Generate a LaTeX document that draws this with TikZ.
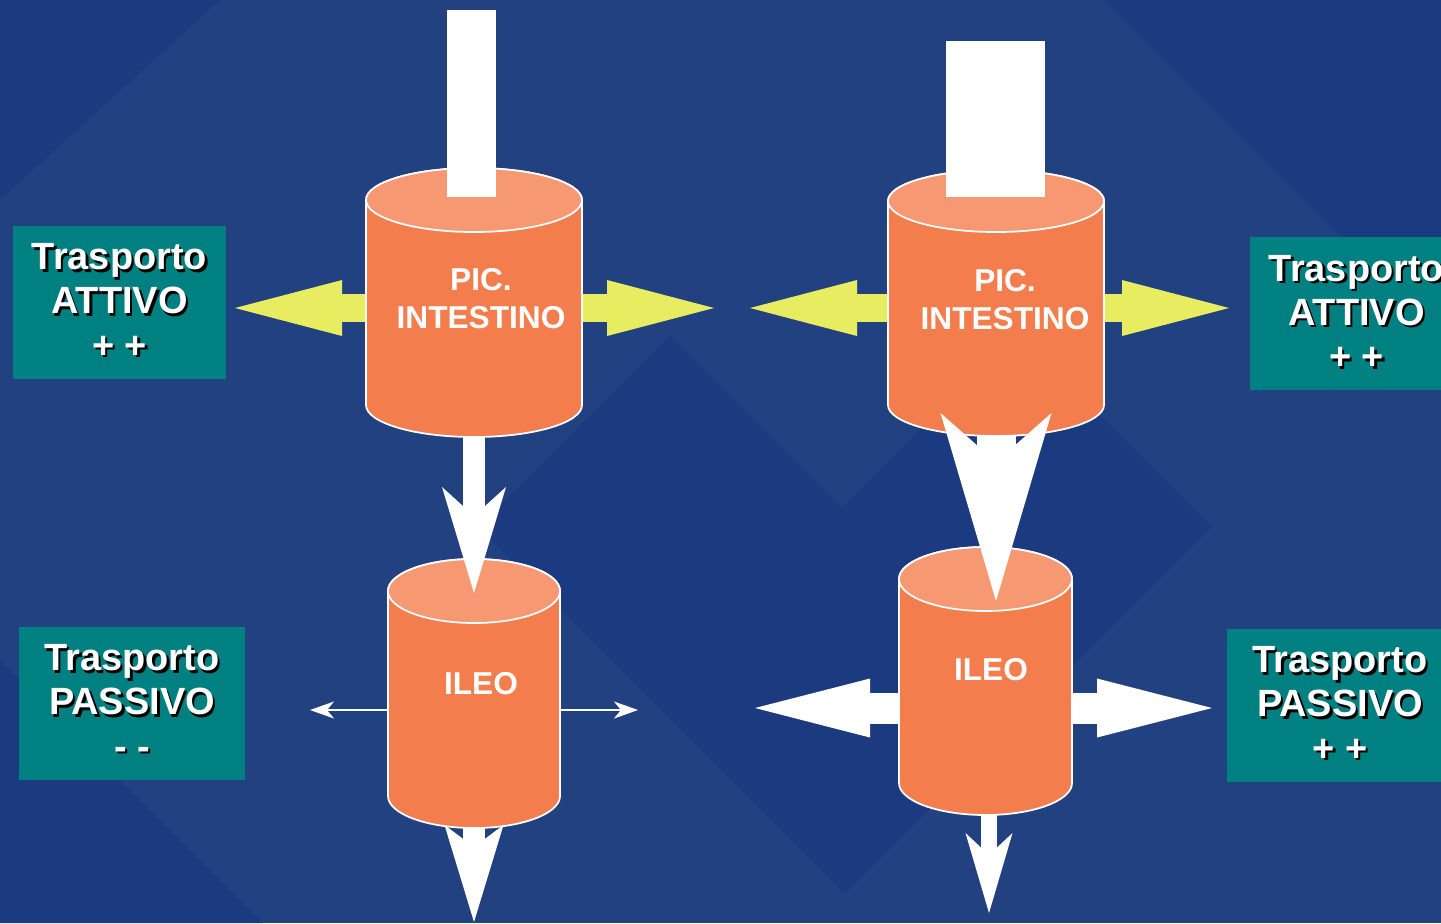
\documentclass[tikz,border=0pt]{standalone}
\usepackage{fontspec}
\setmainfont{Liberation Sans}
\usetikzlibrary{arrows.meta}

\definecolor{bgdark}{RGB}{28,58,127}
\definecolor{bglight}{RGB}{33,65,129}
\definecolor{boxteal}{RGB}{0,128,128}
\definecolor{cylside}{RGB}{243,125,76}
\definecolor{cyltop}{RGB}{246,152,114}
\definecolor{arryellow}{RGB}{232,236,96}

% white text with a dark drop shadow
\newcommand{\shtext}[1]{\makebox[0pt][l]{\kern0.7pt\raisebox{-0.7pt}{\color{black}#1}}#1}

\begin{document}
\begin{tikzpicture}[
    anchorbox/.style={draw=none, inner sep=0pt, outer sep=0pt},
    transport/.style={fill=boxteal, text=white, align=center, inner sep=0pt,
        minimum height=1.53cm, font=\bfseries\fontsize{10.8}{12.6}\selectfont},
    cyllabel/.style={text=white, align=center, inner sep=0pt,
        font=\bfseries\fontsize{9}{10.8}\selectfont},
    body/.style={fill=cylside, draw=white, line width=0.5pt},
    lid/.style={fill=cyltop, draw=white, line width=0.5pt},
    feed/.style={fill=white, inner sep=0pt, outer sep=0pt},
    activeflow/.style={draw=arryellow, line width=0.285cm,
        -{Triangle[length=1.07cm, width=0.56cm, line width=0pt]}},
    bigflow/.style={draw=white, line width=0.31cm,
        -{Triangle[length=1.15cm, width=0.59cm, line width=0pt]}},
    thinflow/.style={draw=white, line width=0.6pt,
        -{Stealth[length=0.24cm, width=0.17cm, inset=0.07cm]}},
    downflow/.style={draw=white}
]
    \useasboundingbox (0,0) rectangle (14.41,-9.23);
    \clip (0,0) rectangle (14.41,-9.23);

    % background
    \fill[bglight] (0,0) rectangle (14.41,-9.23);
    \fill[bgdark] (0,0) -- (2.2,0) -- (0,-2.0) -- cycle;
    \fill[bgdark] (11.03,0) -- (14.41,0) -- (14.41,-3.38) -- cycle;
    \fill[bgdark] (8.45,-1.60) -- (12.12,-5.27) -- (8.45,-8.94) -- (4.78,-5.27) -- cycle;
    \fill[bglight] (8.42,2.07) -- (11.99,-1.5) -- (8.42,-5.07) -- (4.85,-1.5) -- cycle;
    \fill[bgdark] (0,-6.6) -- (2.63,-9.23) -- (0,-9.23) -- cycle;

    % cylinder bodies (for anchors)
    \node[anchorbox, minimum width=2.16cm, minimum height=2.56cm] (picL) at (4.74,-3.08) {};
    \node[anchorbox, minimum width=2.16cm, minimum height=2.56cm] (picR) at (9.96,-3.08) {};
    \node[anchorbox, minimum width=1.72cm, minimum height=2.34cm] (ileoL) at (4.74,-7.10) {};
    \node[anchorbox, minimum width=1.73cm, minimum height=2.14cm] (ileoR) at (9.855,-7.08) {};

    \coordinate (actLw) at (2.35,-3.08);
    \coordinate (actLe) at (7.14,-3.08);
    \coordinate (actRw) at (7.50,-3.08);
    \coordinate (actRe) at (12.29,-3.08);
    \coordinate (pasLw) at (3.10,-7.10);
    \coordinate (pasLe) at (6.38,-7.10);
    \coordinate (pasRw) at (7.55,-7.08);
    \coordinate (pasRe) at (12.12,-7.08);
    \coordinate (outL) at (4.74,-9.22);
    \coordinate (outR) at (9.89,-9.13);

    % sideways transport
    \draw[activeflow] (picL.west) -- (actLw);
    \draw[activeflow] (picL.east) -- (actLe);
    \draw[activeflow] (picR.west) -- (actRw);
    \draw[activeflow] (picR.east) -- (actRe);
    \draw[thinflow] (ileoL.west) -- (pasLw);
    \draw[thinflow] (ileoL.east) -- (pasLe);
    \draw[bigflow] (ileoR.west) -- (pasRw);
    \draw[bigflow] (ileoR.east) -- (pasRe);

    % cylinders
    \filldraw[body] (3.66,-2.00) -- (3.66,-4.05) arc (180:360:1.08 and 0.32) -- (5.82,-2.00) arc (0:180:1.08 and 0.32) -- cycle;
    \filldraw[lid] (4.74,-2.00) ellipse (1.08 and 0.32);
    \filldraw[body] (8.88,-2.01) -- (8.88,-4.05) arc (180:360:1.08 and 0.31) -- (11.04,-2.01) arc (0:180:1.08 and 0.31) -- cycle;
    \filldraw[lid] (9.96,-2.01) ellipse (1.08 and 0.31);
    \filldraw[body] (3.88,-5.91) -- (3.88,-7.96) arc (180:360:0.86 and 0.32) -- (5.60,-5.91) arc (0:180:0.86 and 0.32) -- cycle;
    \filldraw[lid] (4.74,-5.91) ellipse (0.86 and 0.32);
    \filldraw[body] (8.99,-5.79) -- (8.99,-7.83) arc (180:360:0.865 and 0.32) -- (10.72,-5.79) arc (0:180:0.865 and 0.32) -- cycle;
    \filldraw[lid] (9.855,-5.79) ellipse (0.865 and 0.32);

    % inflow bars
    \node[feed, minimum width=0.49cm, minimum height=1.87cm] (inL) at (4.715,-1.035) {};
    \node[feed, minimum width=0.99cm, minimum height=1.56cm] (inR) at (9.955,-1.19) {};

    % downward flow
    \draw[downflow, line width=0.22cm, -{Stealth[length=1.06cm, width=0.64cm, inset=0.29cm, line width=0pt]}] (picL.south) -- (ileoL.north);
    \draw[downflow, line width=0.39cm, -{Stealth[length=1.88cm, width=1.11cm, inset=0.49cm, line width=0pt]}] (picR.south) -- (picR.south |- ileoR.north);
    \draw[downflow, line width=0.22cm, -{Stealth[length=0.97cm, width=0.59cm, inset=0.22cm, line width=0pt]}] (ileoL.south) -- (outL);
    \draw[downflow, line width=0.16cm, -{Stealth[length=0.80cm, width=0.47cm, inset=0.22cm, line width=0pt]}] (ileoR.south -| outR) -- (outR);

    % labels
    \node[cyllabel] (tPicL) at (4.81,-2.99) {PIC.\\INTESTINO};
    \node[cyllabel] (tPicR) at (10.05,-3.00) {PIC.\\INTESTINO};
    \node[cyllabel] (tIleoL) at (4.81,-6.84) {ILEO};
    \node[cyllabel] (tIleoR) at (9.91,-6.70) {ILEO};

    \node[transport, minimum width=2.13cm] (attL) at (1.195,-3.02) {\shtext{Trasporto}\\\shtext{ATTIVO}\\\shtext{+ +}};
    \node[transport, minimum width=2.13cm] (attR) at (13.565,-3.135) {\shtext{Trasporto}\\\shtext{ATTIVO}\\\shtext{+ +}};
    \node[transport, minimum width=2.26cm] (pasL) at (1.32,-7.03) {\shtext{Trasporto}\\\shtext{PASSIVO}\\\shtext{- -}};
    \node[transport, minimum width=2.26cm] (pasR) at (13.40,-7.05) {\shtext{Trasporto}\\\shtext{PASSIVO}\\\shtext{+ +}};
\end{tikzpicture}
\end{document}
